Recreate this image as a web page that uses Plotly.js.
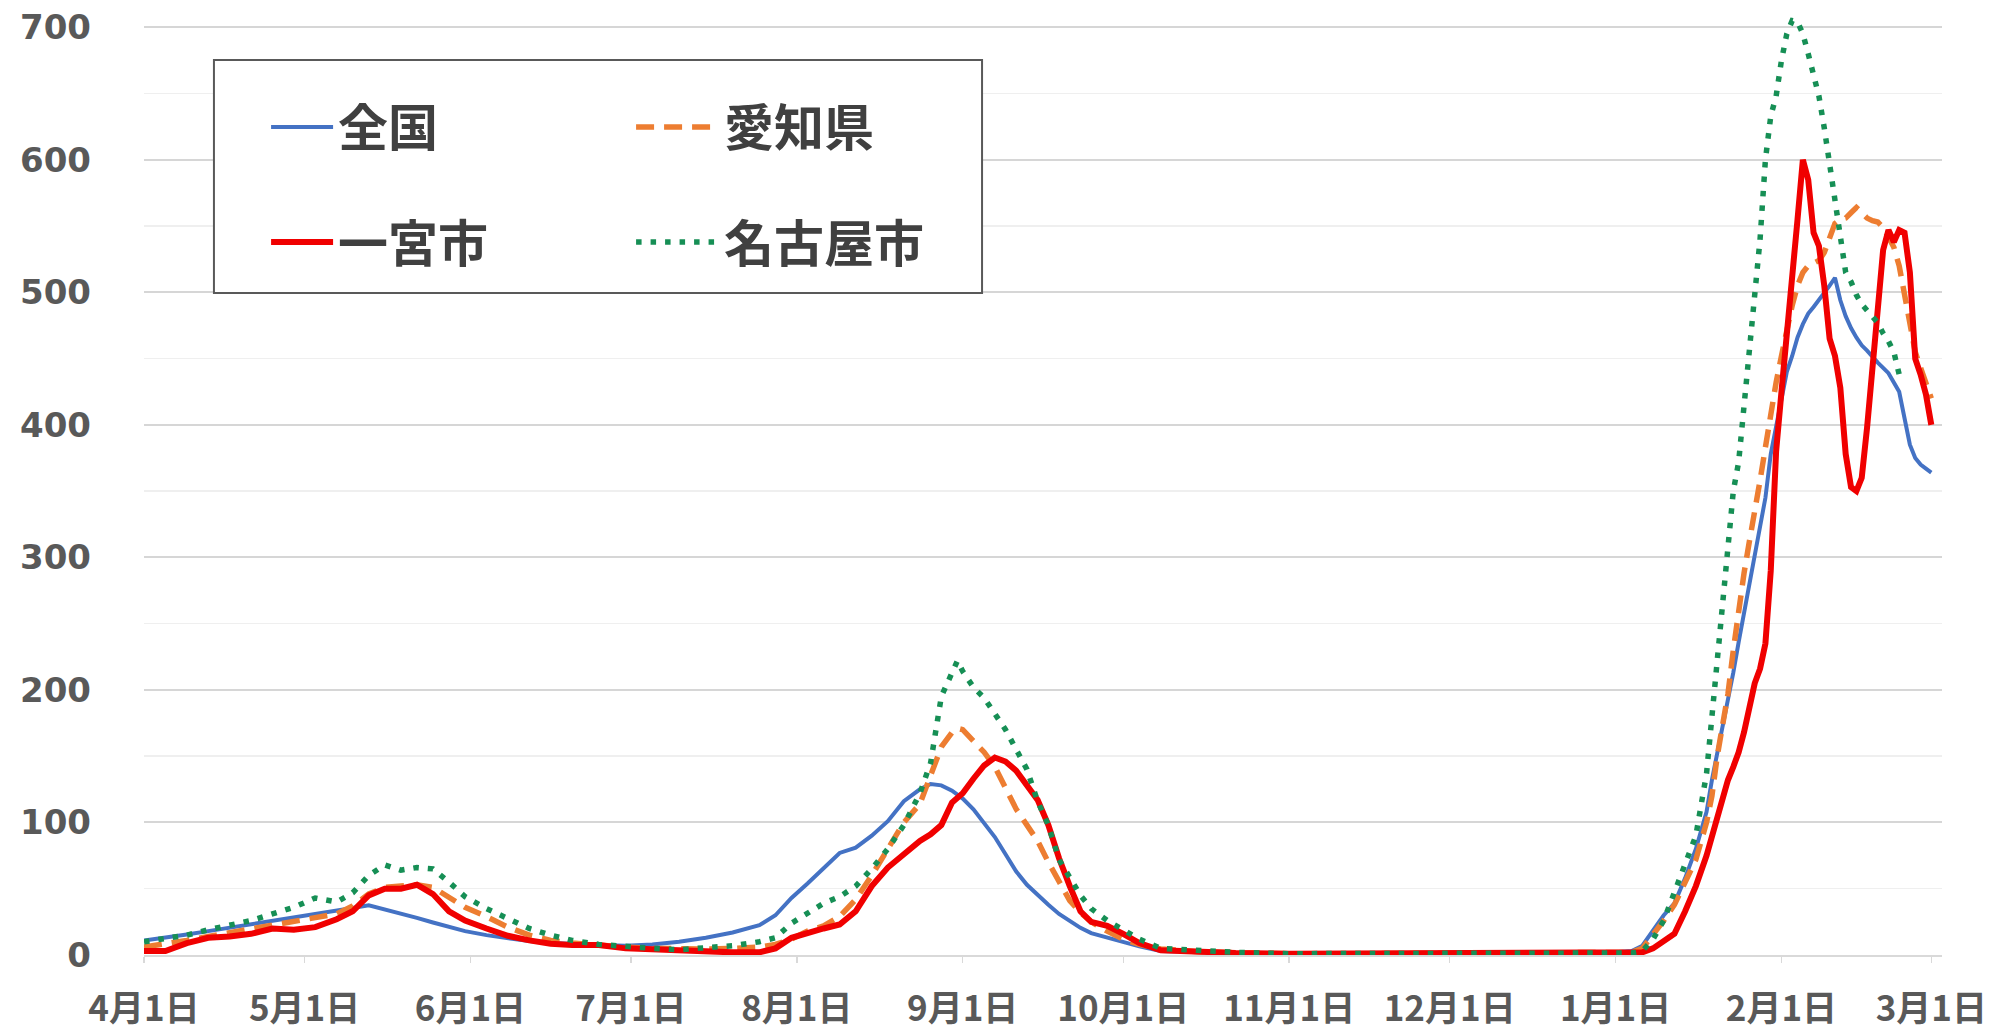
<!DOCTYPE html>
<html>
<head>
<meta charset="utf-8">
<script src="https://cdn.plot.ly/plotly-3.0.1.min.js"></script>
<style>html,body{margin:0;padding:0;background:#fff;}#chart{width:1995px;height:1031px;}</style>
</head>
<body>
<div id="chart"></div>
<script>
const dates = [
'2021-04-01','2021-04-05','2021-04-09','2021-04-13','2021-04-17','2021-04-21','2021-04-25','2021-04-29',
'2021-05-03','2021-05-07','2021-05-10','2021-05-13','2021-05-16','2021-05-19','2021-05-22','2021-05-25','2021-05-28','2021-05-31',
'2021-06-04','2021-06-08','2021-06-12','2021-06-16','2021-06-20','2021-06-25','2021-06-30',
'2021-07-05','2021-07-10','2021-07-15','2021-07-20','2021-07-25','2021-07-28','2021-07-31',
'2021-08-03','2021-08-06','2021-08-09','2021-08-12','2021-08-15','2021-08-18','2021-08-21','2021-08-24','2021-08-26','2021-08-28','2021-08-30','2021-08-31',
'2021-09-01','2021-09-03','2021-09-05','2021-09-07','2021-09-09','2021-09-11','2021-09-13','2021-09-15','2021-09-17','2021-09-19','2021-09-21','2021-09-23','2021-09-25','2021-09-28',
'2021-10-01','2021-10-04','2021-10-08','2021-10-15','2021-10-22','2021-11-01','2021-11-15','2021-12-01','2021-12-15',
'2022-01-01','2022-01-04','2022-01-06','2022-01-08','2022-01-10','2022-01-12','2022-01-14','2022-01-16','2022-01-18','2022-01-19','2022-01-20',
'2022-01-21','2022-01-22','2022-01-23','2022-01-24','2022-01-25','2022-01-26','2022-01-27','2022-01-28','2022-01-29','2022-01-30','2022-01-31',
'2022-02-01','2022-02-02','2022-02-03','2022-02-04','2022-02-05','2022-02-06','2022-02-07','2022-02-08','2022-02-09','2022-02-10',
'2022-02-11','2022-02-12','2022-02-13','2022-02-14','2022-02-15','2022-02-16','2022-02-17','2022-02-18','2022-02-19','2022-02-20',
'2022-02-21','2022-02-22','2022-02-23','2022-02-24','2022-02-25','2022-02-26','2022-02-27','2022-02-28',
'2022-03-01'
];

// 全国
const zenkoku = [
11,13,15.5,18,20.5,23,25.5,28,
30.5,33,35.5,37.5,34.5,31,28,24.5,21.5,18,
15,12.5,10.5,9,8,7.5,7,
8,10,13,17,22.5,30,43,
54,65,77,81,90,101,116,125,129,128,124,121,
118,110,99,89,76,63,53,45,38,31,26,20.5,16.5,13,
9.5,6.5,3,2,1.5,1,1,1,1,
2,3,7,19,30,39,58,80,108,132,152,
172,193,213,236,258,280,300,325,345,378,400,
420,440,452,466,476,484,489,494,499,505,
511,494,482,473,466,460,456,451,447,443,
439,432,425,405,385,375,370,367,
364
];

// 愛知県
const aichi = [
6,8,11,14,17,20,23,25,
28,31,37,46,51,52,53,51,44,36,
29,21,15,11,9,7,6,
5,4.5,4.5,5,6,8,12,
18,22,29,42,60,80,100,114,135,157,168,171,
170,162,153,142,125,110,98,86,70,56,41,32,25,18,
12,8,4.5,2.5,1.5,1,1,1,1,
1.5,2,5,15,26,38,55,72,100,120,150,
175,197,230,260,288,312,338,358,383,410,432,
452,472,490,505,515,520,522,524,530,540,
552,555,556,560,564,560,556,554,553,549,
542,534,520,500,478,455,443,432,
420
];

// 一宮市
const ichinomiya = [
3,3,9,13,14,16,20,19,
21,27,33,45,50,50,53,46,33,26,
20,14.5,11,8.5,7.5,7.5,5,
4,3,2.5,2,2,5,13,
17,20,23,33,52,66,76,86,91,98,115,119,
122,133,143,149,146,139,127,117,98,73,52,33,25,22,
16,9,3.5,2,1.5,1,1,1,1,
1,1,2,5,10,16,33,52,75,90,104,
118,132,142,153,168,186,205,216,235,290,380,
425,465,510,555,600,585,545,535,505,465,
452,428,378,353,350,360,398,440,480,532,
547,538,547,545,515,450,438,423,
400
];

// 名古屋市
const nagoya = [
10,12,15,19,22,26,31,36,
43,40,47,60,68,64,66,65,55,44,
35,28,20,15,11,8,6,
5,4,5.5,7,10,13,24,
32,39,44,52,65,80,98,122,145,195,213,222,
214,202,194,182,170,155,140,116,98,72,58,45,35,26,
19,12,5,3,2,1,1,1,1,
1.5,1.5,3,12,26,48,67,90,137,180,222,
268,314,350,372,414,457,498,540,600,633,648,
675,695,705,704,695,680,665,648,624,598,
573,544,515,508,498,491,486,482,477,469,
463,455,438,null,null,null,null,null,
null
];

const monthTicks = ['2021-04-01','2021-05-01','2021-06-01','2021-07-01','2021-08-01','2021-09-01','2021-10-01','2021-11-01','2021-12-01','2022-01-01','2022-02-01','2022-03-01'];
const monthLabels = ['4月1日','5月1日','6月1日','7月1日','8月1日','9月1日','10月1日','11月1日','12月1日','1月1日','2月1日','3月1日'];
const yTicks = [0,100,200,300,400,500,600,700];
const yLabels = ['0','100','200','300','400','500','600','700'];
const yMinorTicks = [50,150,250,350,450,550,650];
const seriesNames = ['全国','愛知県','一宮市','名古屋市'];

const FONT = '"Noto Sans CJK JP", "Noto Sans", sans-serif';
const NUMFONT = '"DejaVu Sans", "Noto Sans CJK JP", sans-serif';

const traces = [
  {x: dates, y: zenkoku, name: seriesNames[0], mode: 'lines', legend: 'legend',
   line: {color: '#4472C4', width: 4}},
  {x: dates, y: aichi, name: seriesNames[1], mode: 'lines', legend: 'legend2',
   line: {color: '#ED7D31', width: 5.5, dash: '18px,10px'}},
  {x: dates, y: ichinomiya, name: seriesNames[2], mode: 'lines', legend: 'legend3',
   line: {color: '#F00000', width: 6}},
  {x: dates, y: nagoya, name: seriesNames[3], mode: 'lines', legend: 'legend4', connectgaps: false,
   line: {color: '#168F55', width: 5.5, dash: '5.5px,9px'}}
];

const legendFont = {family: FONT, size: 50, color: '#404040', weight: 'bold'};
function legendAt(x, y, w) {
  return {orientation: 'h', x: x, xanchor: 'left', y: y, yanchor: 'middle',
    bgcolor: 'rgba(0,0,0,0)', borderwidth: 0, font: legendFont,
    itemwidth: w, itemclick: false, itemdoubleclick: false};
}

const layout = {
  width: 1995, height: 1031,
  margin: {l: 144, r: 53, t: 14, b: 76},
  paper_bgcolor: '#ffffff', plot_bgcolor: '#ffffff',
  showlegend: true,
  xaxis: {
    type: 'date',
    range: ['2021-04-01', '2022-03-03'],
    tickmode: 'array', tickvals: monthTicks, ticktext: monthLabels,
    showgrid: false, zeroline: false,
    showline: true, linecolor: '#d9d9d9', linewidth: 2,
    ticks: 'outside', ticklen: 6, tickcolor: '#d9d9d9', tickwidth: 1.5,
    ticklabelstandoff: 16,
    tickfont: {family: FONT, size: 35, color: '#595959', weight: 'bold'}
  },
  yaxis: {
    range: [0, 710],
    tickmode: 'array', tickvals: yTicks, ticktext: yLabels,
    showgrid: true, gridcolor: '#d6d6d6', gridwidth: 2,
    minor: {tickmode: 'array', tickvals: yMinorTicks, showgrid: true, gridcolor: '#efefef', gridwidth: 1.5, ticks: ''},
    zeroline: false, showline: false, ticks: '',
    ticklabelstandoff: 52,
    tickfont: {family: NUMFONT, size: 34, color: '#595959', weight: 'bold'}
  },
  shapes: [
    {type: 'rect', xref: 'paper', yref: 'paper', x0: 0.0389, x1: 0.4661, y0: 0.7035, y1: 0.9511,
     line: {color: '#595959', width: 2}, fillcolor: '#ffffff', layer: 'above'}
  ],
  legend: legendAt(0.0679, 0.880, 62),
  legend2: legendAt(0.2709, 0.880, 83),
  legend3: legendAt(0.0679, 0.7577, 62),
  legend4: legendAt(0.2709, 0.7577, 83)
};

Plotly.newPlot('chart', traces, layout, {staticPlot: true, displayModeBar: false});
</script>
</body>
</html>
